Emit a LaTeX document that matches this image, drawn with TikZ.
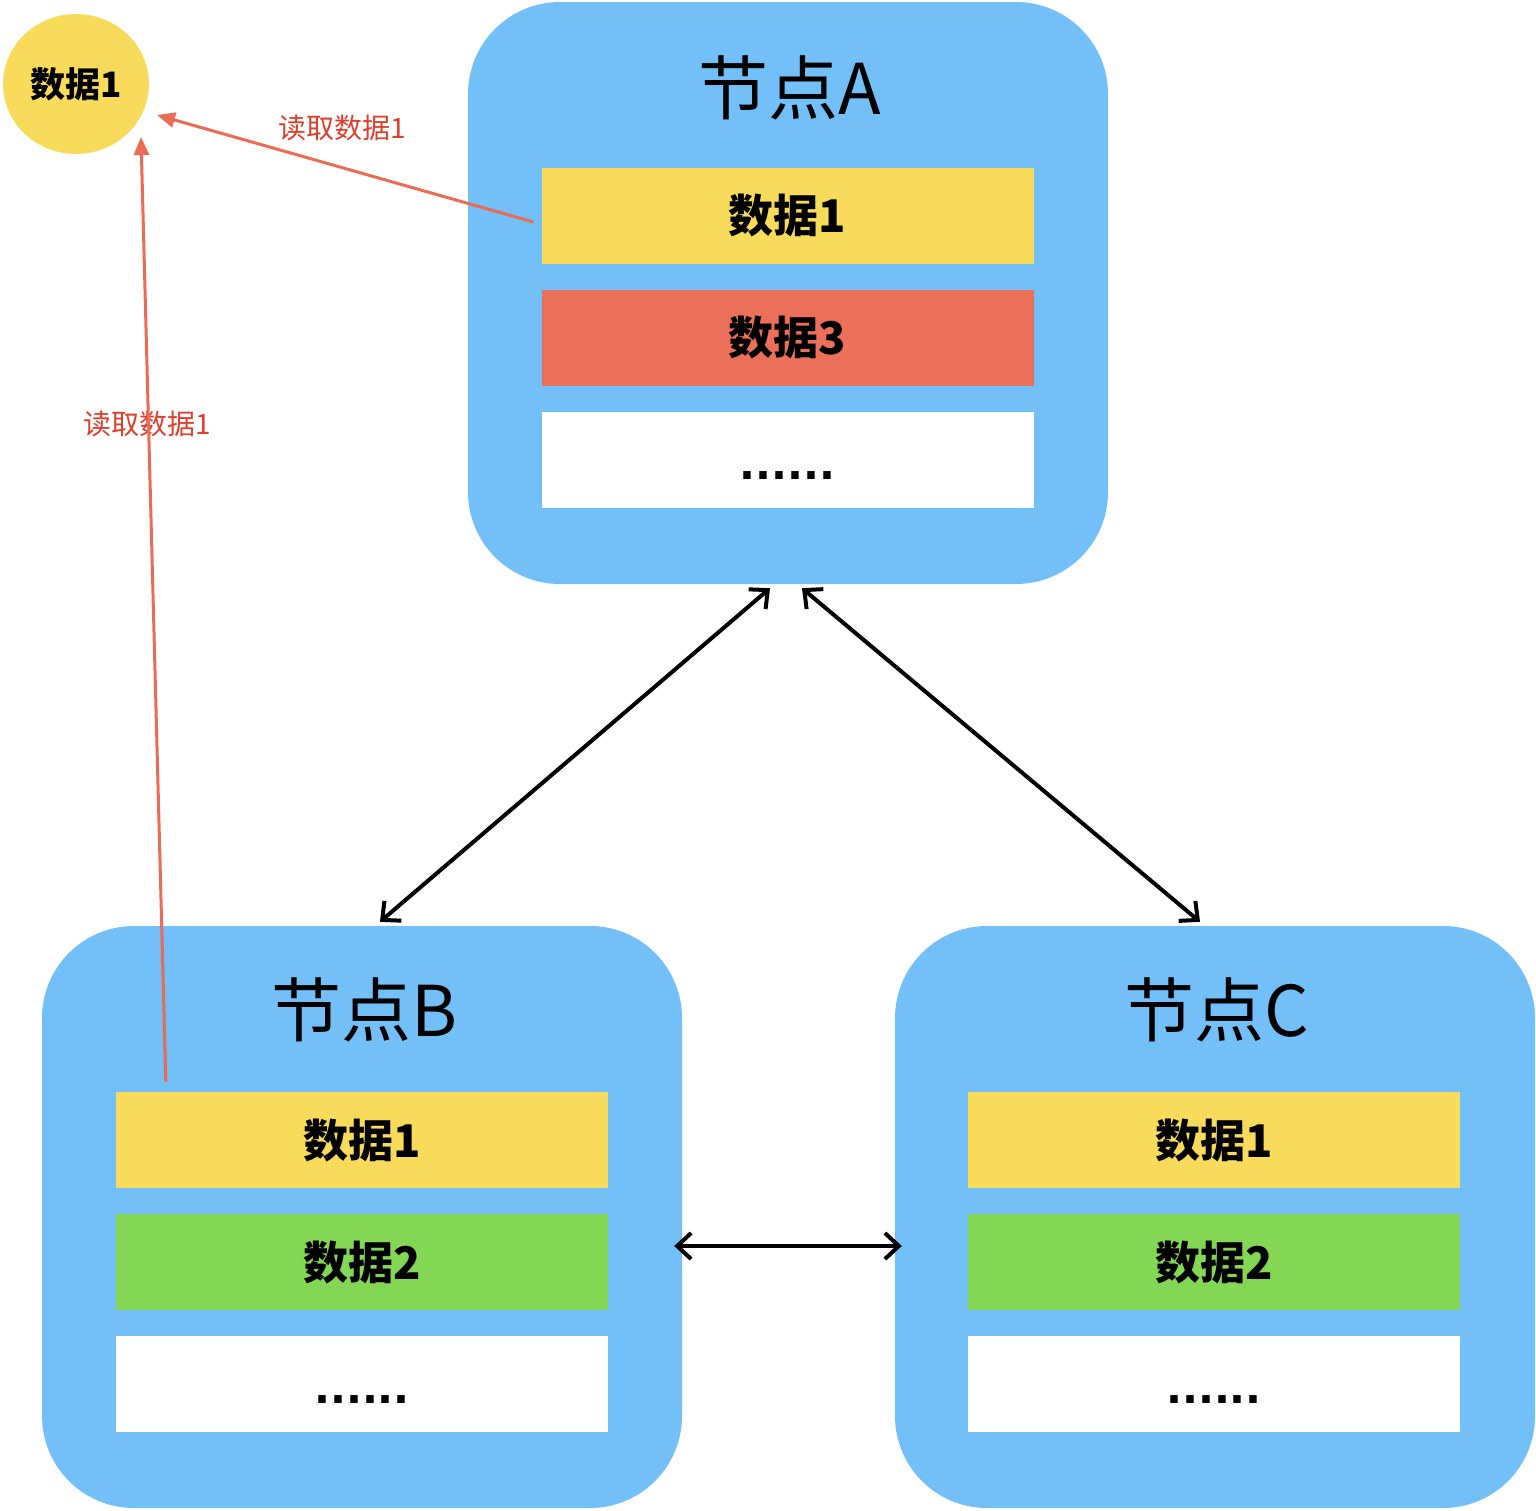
\documentclass[tikz,border=0pt]{standalone}
\usepackage{fontspec}
\setmainfont{Noto Sans CJK SC}
\newfontfamily\dotfont{DejaVu Sans}
\usetikzlibrary{arrows.meta,shapes.geometric}
\definecolor{nodeblue}{HTML}{73BFF8}
\definecolor{datayellow}{HTML}{F8DB5B}
\definecolor{datared}{HTML}{EC6F59}
\definecolor{datagreen}{HTML}{84D755}
\definecolor{readred}{HTML}{EA6B56}
\definecolor{labelred}{HTML}{DF3D2B}
\tikzset{
  panel/.style={fill=nodeblue, rounded corners=92pt, minimum width=640pt, minimum height=582pt, inner sep=0pt},
  paneltitle/.style={font=\fontsize{70}{70}\selectfont, inner sep=0pt},
  datarow/.style={minimum width=492pt, minimum height=96pt, inner sep=0pt, font=\bfseries\fontsize{45}{45}\selectfont},
  dotstext/.style={inner sep=0pt, font=\dotfont\bfseries\fontsize{42}{42}\selectfont},
  link/.style={line width=4pt, {Straight Barb[length=14pt,width=26pt]}-{Straight Barb[length=14pt,width=26pt]}},
  readarrow/.style={readred, line width=3pt, -{Triangle[length=18pt,width=15pt]}},
  readlabel/.style={text=labelred, font=\fontsize{28}{28}\selectfont, inner sep=0pt},
}
\begin{document}
\begin{tikzpicture}[x=1pt,y=-1pt]
\useasboundingbox (0,0) rectangle (1536,1510);
% panels
\node[panel] (A) at (788,293) {};
\node[panel] (B) at (362,1217) {};
\node[panel] (C) at (1215,1217) {};
\node[paneltitle] (tA) at (790,88) {节点A};
\node[paneltitle] (tB) at (364,1010) {节点B};
\node[paneltitle] (tC) at (1217,1010) {节点C};
% rows A
\node[datarow, fill=datayellow] (a1) at (787.5,216) {数据1};
\node[datarow, fill=datared] (a2) at (787.5,338) {数据3};
\node[datarow, fill=white] (a3) at (787.5,460) {};
\node[dotstext] (a3t) at ([yshift=-16pt]a3.center) {......};
% rows B
\node[datarow, fill=datayellow] (b1) at (362,1140) {数据1};
\node[datarow, fill=datagreen] (b2) at (362,1262) {数据2};
\node[datarow, fill=white] (b3) at (362,1384) {};
\node[dotstext] (b3t) at ([yshift=-16pt]b3.center) {......};
% rows C
\node[datarow, fill=datayellow] (c1) at (1214,1140) {数据1};
\node[datarow, fill=datagreen] (c2) at (1214,1262) {数据2};
\node[datarow, fill=white] (c3) at (1214,1384) {};
\node[dotstext] (c3t) at ([yshift=-16pt]c3.center) {......};
% client data
\node[ellipse, fill=datayellow, minimum width=146pt, minimum height=140pt, inner sep=0pt,
      font=\bfseries\fontsize{35}{35}\selectfont] (d) at (76,84) {数据1};
% links
\draw[link] ([shift={(-18,4)}]A.south) -- ([shift={(18,-4)}]B.north);
\draw[link] ([shift={(14,4)}]A.south) -- ([shift={(-15,-4)}]C.north);
\draw[link] ([shift={(-8,29)}]B.east) -- ([shift={(7,29)}]C.west);
% read labels
\node[readlabel] (r1) at (342,128) {读取数据1};
\node[readlabel] (r2) at (147,424) {读取数据1};
% read arrows
\draw[readarrow] ([shift={(-8,6)}]a1.west) -- ([shift={(81,31)}]d.center);
\draw[readarrow] ([shift={(50,-10)}]b1.north west) -- ([shift={(65,53)}]d.center);
\end{tikzpicture}
\end{document}
